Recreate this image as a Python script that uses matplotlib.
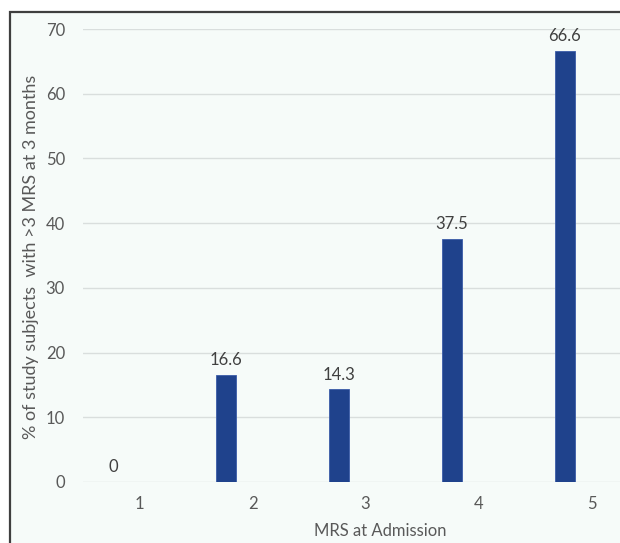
import matplotlib
matplotlib.use("Agg")
import matplotlib.pyplot as plt
from matplotlib.patches import Rectangle

categories = ["1", "2", "3", "4", "5"]
values = [0, 16.6, 14.3, 37.5, 66.6]
value_labels = ["0", "16.6", "14.3", "37.5", "66.6"]
yticks = [0, 10, 20, 30, 40, 50, 60, 70]
xlabel = "MRS at Admission"
ylabel = "% of study subjects  with >3 MRS at 3 months"

W, H = 620, 543
plt.rcParams["font.family"] = ["Lato", "DejaVu Sans"]
fig = plt.figure(figsize=(W / 100, H / 100), dpi=100)
fig.patch.set_facecolor("white")

# outer frame with light background
frame = Rectangle((10 / W, -0.05), 1.1, (H - 12) / H + 0.05,
                  transform=fig.transFigure, facecolor="#f6fbf9",
                  edgecolor="#3f3f3f", linewidth=1.6, zorder=-10)
fig.patches.append(frame)

left, right, bottom, top = 83, 620, H - 482, H - 29
ax = fig.add_axes([left / W, bottom / H, (right - left) / W, (top - bottom) / H])
ax.set_facecolor("none")
ax.set_zorder(5)

cat_w = 113
xs = list(range(1, len(categories) + 1))
offset = -0.235
bw = 0.17
bar_x = [x + offset for x in xs]
ax.bar(bar_x, values, width=bw, color="#1f428c", edgecolor="#3a5ca8", linewidth=0.6, zorder=3)
for bx, v, lab in zip(bar_x, values, value_labels):
    ax.annotate(lab, (bx, v), xytext=(0, 5), textcoords="offset points",
                ha="center", va="bottom", fontsize=12, color="#404040", zorder=4)

ax.set_xlim(0.5, 0.5 + (right - left) / cat_w)
ax.set_ylim(0, 70)
ax.set_yticks(yticks)
ax.set_yticklabels([str(t) for t in yticks], fontsize=12, color="#595959")
ax.set_xticks(xs)
ax.set_xticklabels(categories, fontsize=12, color="#595959")
ax.tick_params(length=0)
ax.tick_params(axis="y", pad=13)
ax.tick_params(axis="x", pad=10)
ax.grid(axis="y", color="#d9dedd", linewidth=1.0, zorder=1)
ax.set_axisbelow(True)
for s in ax.spines.values():
    s.set_visible(False)

fig.text(380 / W, 1 - 531 / H, xlabel, ha="center", va="center", fontsize=12, color="#595959")
fig.text(31 / W, 1 - 257 / H, ylabel, ha="center", va="center", rotation=90,
         fontsize=13, color="#595959")

fig.savefig("out.png", dpi=100, facecolor="white")
